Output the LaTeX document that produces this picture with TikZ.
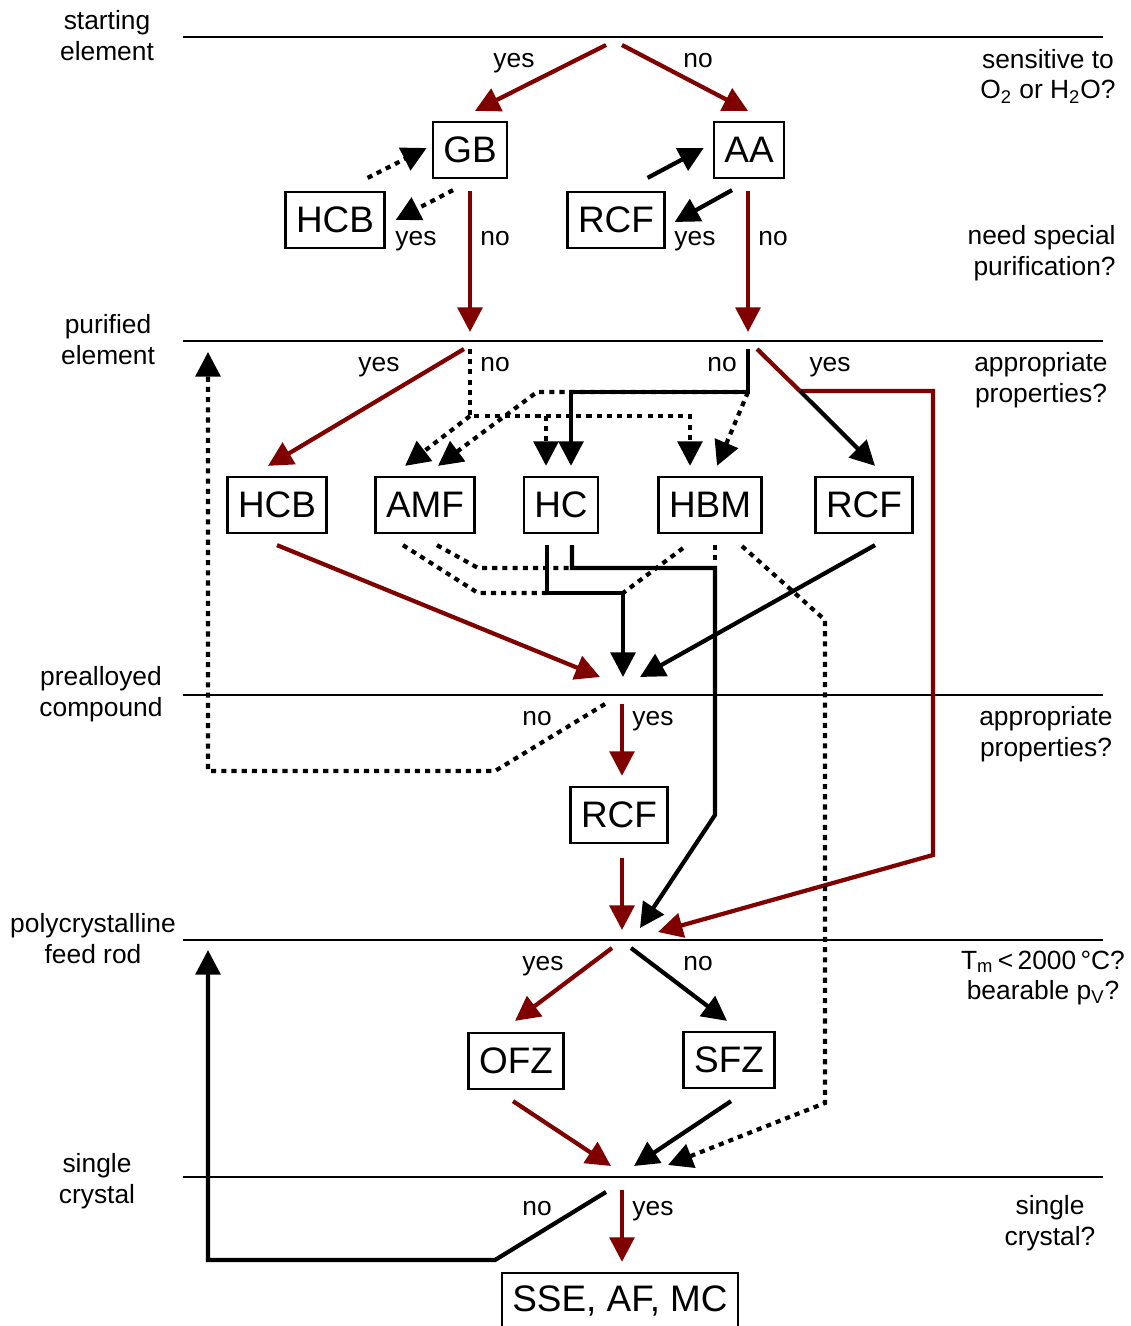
\documentclass[tikz,border=0pt]{standalone}
\usepackage{fontspec}
\setmainfont{Liberation Sans}
\usetikzlibrary{arrows.meta,calc}
\definecolor{dred}{RGB}{128,0,0}
\begin{document}
\begin{tikzpicture}[x=0.02cm,y=-0.02cm,>={Triangle[length=14pt,width=14pt]},
    box/.style={draw,line width=1.3pt,minimum height=1.12cm,inner xsep=6pt,inner ysep=2pt,font=\fontsize{21}{25}\selectfont},
    lab/.style={font=\fontsize{15}{17.6}\selectfont,align=center,inner sep=0pt},
    yn/.style={lab,text height=1.1ex,text depth=0pt,yshift=-0.06cm},
    lvl/.style={line width=1.4pt},
    rline/.style={->,line width=2.4pt,draw=dred},
    bline/.style={->,line width=2.4pt},
    dline/.style={->,line width=2.4pt,dash pattern=on 2.9pt off 2.9pt}]
    \useasboundingbox (0,0) rectangle (1131,1326);
    % levels
    \foreach \y in {37,341,695,940,1177}
    \draw[lvl] (183,\y)--(1103,\y);
    \node[lab] (se) at (107,35.5) {starting\\element};
    \node[lab] (pe) at (108,340) {purified\\element};
    \node[lab] (pc) at (101,694) {prealloyed\\compound};
    \node[lab] (fr) at (93,938.5) {polycrystalline\\feed rod};
    \node[lab] (sc) at (97,1181.5) {single\\crystal};
    % questions
    \node[lab] (q1) at (1048,76) {sensitive to\\O\textsubscript{2} or H\textsubscript{2}O?};
    \node[lab,align=right,anchor=east] (q2) at (1116,253) {need special\\purification?};
    \node[lab] (q3) at (1041,380) {appropriate\\properties?};
    \node[lab] (q4) at (1046,734) {appropriate\\properties?};
    \node[lab] (q5) at (1043,978) {T\textsubscript{m}\,<\,2000\,°C?\\bearable p\textsubscript{V}?};
    \node[lab] (q6) at (1050,1223) {single\\crystal?};
    % methods
    \node[box] (GB) at (470,150) {GB};
    \node[box] (AA) at (749,150) {AA};
    \node[box] (HCBa) at (335,220) {HCB};
    \node[box] (RCFa) at (616,220) {RCF};
    \node[box] (HCB) at (277,505) {HCB};
    \node[box] (AMF) at (425,505) {AMF};
    \node[box] (HC) at (561,505) {HC};
    \node[box] (HBM) at (710,505) {HBM};
    \node[box] (RCFb) at (864,505) {RCF};
    \node[box] (RCFc) at (619,815) {RCF};
    \node[box] (OFZ) at (516,1061) {OFZ};
    \node[box] (SFZ) at (729,1060) {SFZ};
    \node[box] (SSE) at (620,1301) {SSE, AF, MC};
    \foreach \n/\x/\y/\t in {1/514/59/yes,2/698/59/no,3/416/237/yes,4/495/237/no,
        5/695/237/yes,6/773/237/no,7/379/363/yes,8/495/363/no,9/722/363/no,10/830/363/yes,
        11/537/717/no,12/653/717/yes,13/543/962/yes,14/698/962/no,15/537/1207/no,16/653/1207/yes}
    \node[yn] (l\n) at (\x,\y) {\t};
    % branch points
    \coordinate (a1) at (606,45); \coordinate (a2) at (622,45);
    \coordinate (b1) at (470,332); \coordinate (b2) at (748,332);
    \coordinate (bH) at (464,349); \coordinate (bL) at (470,349);
    \coordinate (bLj) at (470,416); \coordinate (bLh) at (546,416);
    \coordinate (bR) at (748,349); \coordinate (bRj) at (748,392); \coordinate (bRk) at (537,392);
    \coordinate (bY) at (757,349); \coordinate (bYk) at (800,391); \coordinate (bYc) at (933,855);
    \coordinate (b0) at (208,352);
    \coordinate (k1) at (478,593); \coordinate (k2) at (547,593); \coordinate (cJ) at (623,593);
    \coordinate (k3) at (478,568); \coordinate (k4) at (572,568);
    \coordinate (k5) at (715,568); \coordinate (k6) at (715,815);
    \coordinate (k7) at (825,620); \coordinate (k8) at (825,1103);
    \coordinate (c1) at (600,677); \coordinate (c2) at (623,677); \coordinate (c3) at (640,677);
    \coordinate (cY) at (622,704); \coordinate (cN) at (605,704);
    \coordinate (k9) at (495,771); \coordinate (k10) at (208,771);
    \coordinate (d0) at (208,950); \coordinate (d1) at (622,930);
    \coordinate (d2) at (640,928); \coordinate (d3) at (658,932);
    \coordinate (dY) at (612,948); \coordinate (dN) at (631,948);
    \coordinate (e1) at (611,1166); \coordinate (e2) at (634,1166); \coordinate (e3) at (668,1165);
    \coordinate (eY) at (622,1190); \coordinate (eN) at (606,1192);
    \coordinate (k11) at (495,1260); \coordinate (k12) at (208,1260);
    % starting element
    \draw[rline] (a1)--($(GB.north)+(5,-10)$);
    \draw[rline] (a2)--($(AA.north)+(-1,-10)$);
    \draw[dline] ($(HCBa.north east)+(-18,-13)$)--($(GB.west)+(-5,-2)$);
    \draw[dline] ($(GB.south)+(-17,11)$)--($(HCBa.east)+(10,0)$);
    \draw[bline] ($(RCFa.north east)+(-18,-13)$)--($(AA.west)+(-9,-2)$);
    \draw[bline] ($(AA.south)+(-17,11)$)--($(RCFa.east)+(9,2)$);
    \draw[rline] ($(GB.south)+(0,12)$)--(b1);
    \draw[rline] ($(AA.south)+(-1,12)$)--(b2);
    % purified element
    \draw[rline] (bH)--($(HCB.north)+(-9,-10)$);
    \draw[dline] (bL)--(bLj)-|($(HBM.north)+(-20,-10)$);
    \draw[dline] (bLh)--($(HC.north)+(-15,-10)$);
    \draw[dline] (bLj)--($(AMF.north)+(-20,-10)$);
    \draw[dline] (bRj)--(bRk)--($(AMF.north)+(13,-10)$);
    \draw[dline] (bRj)--($(HBM.north)+(7,-10)$);
    \draw[bline] (bR)--(bRj)-|($(HC.north)+(10,-10)$);
    \draw[rline] (bY)--(bYk)-|(bYc)--(d3);
    \draw[bline] (bYk)--($(RCFb.north)+(11,-10)$);
    \draw[rline] ($(HCB.south)+(0,11)$)--(c1);
    \draw[dline,-] ($(AMF.south)+(-22,11)$)--(k1)--(k2);
    \draw[dline,-] ($(AMF.south)+(12,11)$)--(k3)--(k4);
    \draw[dline,-] ($(HBM.south)+(-27,14)$)--(cJ);
    \draw[dline,-] ($(HBM.south)+(5,11)$)--(k5);
    \draw[dline] ($(HBM.south)+(32,12)$)--(k7)--(k8)--(e3);
    \draw[bline] ($(HC.south)+(-14,11)$)|-(cJ)--(c2);
    \draw[bline] ($(HC.south)+(11,11)$)|-(k5)--(k6)--(d2);
    \draw[bline] ($(RCFb.south)+(11,11)$)--(c3);
    % prealloyed compound
    \draw[rline] (cY)--($(RCFc.north)+(3,-10)$);
    \draw[dline] (cN)--(k9)--(k10)--(b0);
    \draw[rline] ($(RCFc.south)+(3,14)$)--(d1);
    % feed rod
    \draw[rline] (dY)--($(OFZ.north)+(-1,-11)$);
    \draw[bline] (dN)--($(SFZ.north)+(-2,-10)$);
    \draw[rline] ($(OFZ.south)+(-3,11)$)--(e1);
    \draw[bline] ($(SFZ.south)+(2,12)$)--(e2);
    % single crystal
    \draw[bline] (eN)--(k11)--(k12)--(d0);
    \draw[rline] (eY)--($(SSE.north)+(2,-10)$);
\end{tikzpicture}
\end{document}
